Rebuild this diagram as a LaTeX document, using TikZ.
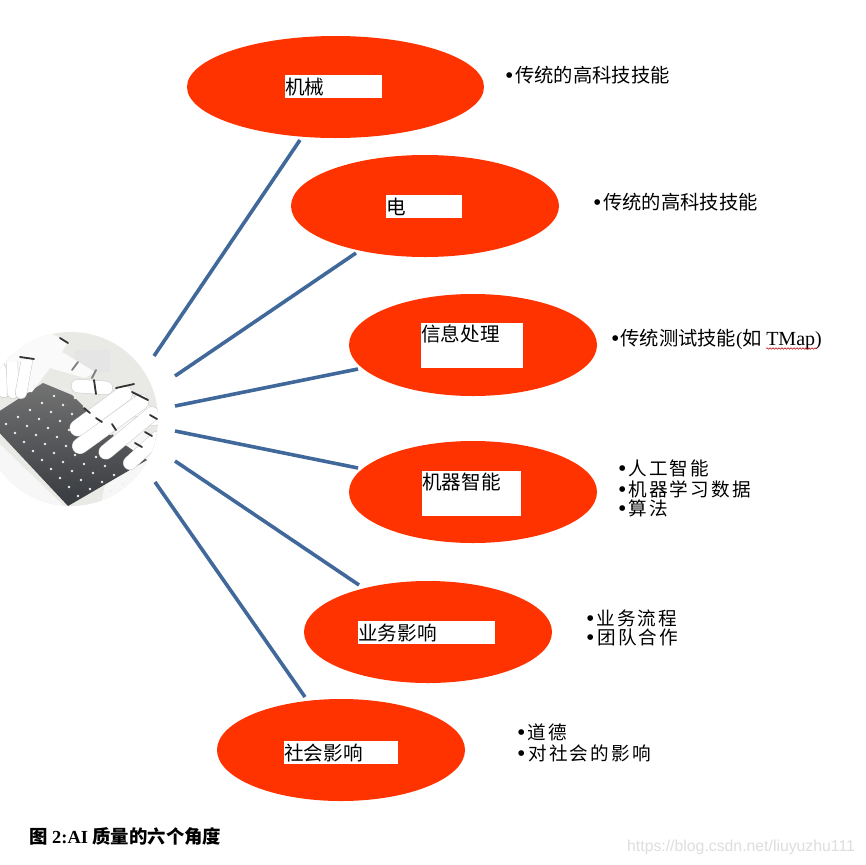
\documentclass[tikz,border=0pt]{standalone}
\usepackage{fontspec}
\setmainfont{Liberation Serif}
\newfontfamily\cjk{Noto Sans CJK SC}
\newfontfamily\cjks[LetterSpace=12]{Noto Sans CJK SC}
\newfontfamily\cjkb{Noto Sans CJK SC Bold}
\newfontfamily\wm{Liberation Sans}
\usetikzlibrary{shapes.geometric,decorations.pathmorphing}
\definecolor{ored}{HTML}{FF3300}
\definecolor{lblue}{HTML}{41689A}
\definecolor{kbd}{HTML}{3A3D42}
\definecolor{bgc}{HTML}{E9E9E6}
\tikzset{
  petal/.style={ellipse,fill=ored,draw=none,inner sep=0pt},
  lbl/.style={fill=white,inner sep=0pt,font=\fontsize{19.6}{19.6}\selectfont\cjk,align=left,anchor=north west},
  spoke/.style={draw=lblue,line width=3.6pt},
  txt/.style={anchor=west,inner sep=0pt,font=\fontsize{19.3}{19.3}\selectfont\cjk},
  txtb/.style={anchor=west,inner sep=0pt,font=\fontsize{18.6}{18.6}\selectfont\cjks},
  finger/.style={line cap=round,line width=#1,draw=white,
    preaction={draw=black!20,line width=#1+1pt,line cap=round}},
  joint/.style={line width=1.8pt,draw=black!80,line cap=round},
  keydot/.style={fill=white!88!gray},
}
\newcommand{\bul}[1]{\smash{\raisebox{-1pt}{\fontsize{24}{24}\fontspec{Liberation Serif}\char"2022}}\kern#1pt\relax}
\begin{document}
\begin{tikzpicture}[x=1pt,y=-1pt]
\useasboundingbox[fill=white] (0,0) rectangle (865,865);
% picture in a circle
\begin{scope}
\clip (71,419) circle (87);
\fill[bgc] (-20,330) rectangle (160,510);
\fill[black!10] (75,350) rectangle (110,372);
\fill[white!94!gray] (-20,425) -- (68,510) -- (-20,510) -- cycle;
\fill[white!94!gray] (120,405) -- (165,450) -- (165,510) -- (100,510) -- cycle;
\shade[top color=black!55,bottom color=kbd!95!black,shading angle=0] (43,383) -- (-5,414) -- (-5,428) -- (68,506) -- (147,460) -- (118,440) -- (72,395) -- cycle;
\foreach \a in {0,...,6}{\foreach \b in {0,...,7}{
  \fill[keydot] ({6+\b*12+\a*9},{424-\b*7+\a*9}) circle (1.3);}}
\foreach \a in {7,...,9}{\foreach \b in {0,...,3}{
  \fill[keydot] ({6+\b*12+\a*9},{424-\b*7+\a*9}) circle (1.3);}}
% back hand
\fill[white!96!gray] (-5,362) -- (20,350) -- (52,334) -- (68,342) -- (62,352) -- (95,372) -- (85,378) -- (50,368) -- (32,392) -- (-5,395) -- cycle;
\draw[finger=11pt] (0,368) -- (4,392);
\draw[finger=11pt] (12,362) -- (13,393);
\draw[finger=11pt] (27,360) -- (21,393);
\fill[white!96!gray] (-5,350) -- (52,334) -- (45,358) -- (-5,364) -- cycle;
\draw[joint] (20,357) -- (34,359);
\draw[joint] (60,338) -- (68,343);
\draw[joint,black!50] (72,370) -- (78,362);
\draw[joint,black!50] (92,378) -- (96,370);
% thumb
\draw[finger=13pt] (78,386) -- (106,388);
\draw[joint] (94,380) -- (96,394);
% front hand
\draw[finger=15pt] (130,403) -- (154,418);
\draw[finger=16pt] (78,428) -- (124,394);
\draw[finger=15pt] (80,446) -- (141,402);
\draw[finger=14pt] (106,452) -- (152,414);
\draw[finger=13pt] (130,463) -- (157,438);
\draw[joint] (116,388) -- (134,384);
\draw[joint] (132,392) -- (148,400);
\draw[joint] (84,408) -- (90,413);
\draw[joint] (96,418) -- (102,422);
\draw[joint] (112,424) -- (116,430);
\draw[joint] (135,443) -- (142,447);
\draw[joint] (145,432) -- (152,436);
\draw[joint] (150,415) -- (157,419);
\end{scope}
% free ends of the connectors
\coordinate (h1) at (154,356);
\coordinate (h2) at (175,376);
\coordinate (h3) at (175,406);
\coordinate (h4) at (175,431);
\coordinate (h5) at (175,461);
\coordinate (h6) at (155,482);
\coordinate (e1) at (300,140);
\coordinate (e2) at (356,253);
\coordinate (e3) at (358,369);
\coordinate (e4) at (358,468);
\coordinate (e5) at (359,585);
\coordinate (e6) at (305,697);
\draw[spoke] (h1) -- (e1);
\draw[spoke] (h2) -- (e2);
\draw[spoke] (h3) -- (e3);
\draw[spoke] (h4) -- (e4);
\draw[spoke] (h5) -- (e5);
\draw[spoke] (h6) -- (e6);
% ellipses
\node[petal,minimum width=297pt,minimum height=102pt] (a1) at (335.5,87) {};
\node[petal,minimum width=268pt,minimum height=102pt] (a2) at (425,206) {};
\node[petal,minimum width=248pt,minimum height=102pt] (a3) at (473,345) {};
\node[petal,minimum width=248pt,minimum height=102pt] (a4) at (473,492) {};
\node[petal,minimum width=248pt,minimum height=102pt] (a5) at (428,632) {};
\node[petal,minimum width=248pt,minimum height=102pt] (a6) at (341,750) {};
% white label boxes
\node[lbl,minimum width=97pt,minimum height=23pt,text width=97pt] (b1) at (285,75) {\raisebox{-2.5pt}{机械}};
\node[lbl,minimum width=76pt,minimum height=23pt,text width=76pt] (b2) at (386,195) {\raisebox{-2.5pt}{电}};
\node[lbl,minimum width=102pt,minimum height=45pt,text width=102pt,anchor=west] (b3) at (421,345.5) {\raisebox{24pt}{信息处理}};
\node[lbl,minimum width=99pt,minimum height=45pt,text width=99pt,anchor=west] (b4) at (422,493.5) {\raisebox{24pt}{机器智能}};
\node[lbl,minimum width=137pt,minimum height=23pt,text width=137pt] (b5) at (358,621) {\raisebox{-2.5pt}{业务影响}};
\node[lbl,minimum width=114pt,minimum height=23pt,text width=114pt] (b6) at (284,741) {\raisebox{-2.5pt}{社会影响}};
% side texts
\node[txt] (t1) at (505,75) {\bul{1.6}传统的高科技技能};
\node[txt] (t2) at (593,202) {\bul{1.6}传统的高科技技能};
\node[txt] (t3) at (611,339) {\bul{0.8}传统测试技能{\rmfamily(}如 {\rmfamily\fontsize{20}{20}\selectfont TMap)}};
\node[txtb] (t4) at (618,468) {\bul{1.6}人工智能};
\node[txtb] (t5) at (618,489) {\bul{1.6}机器学习数据};
\node[txtb] (t6) at (618,508.5) {\bul{1.6}算法};
\node[txtb] (t7) at (586,618) {\bul{1.6}业务流程};
\node[txtb] (t8) at (586,637.5) {\bul{2.6}团队合作};
\node[txtb] (t9) at (517,732) {\bul{1.6}道德};
\node[txtb] (t10) at (517,753) {\bul{2.6}对社会的影响};
\coordinate (s1) at (766,348.5);
\coordinate (s2) at (817,348.5);
\draw[red!75!black,line width=.5pt,decorate,decoration={snake,amplitude=.8pt,segment length=3pt}] (s1) -- (s2);
% caption
\node[anchor=west,inner sep=0pt,font=\fontsize{18.4}{18.4}\selectfont\bfseries] (cap) at (29,836) {{\cjkb 图} 2:AI {\cjkb 质量的六个角度}};
\node[anchor=west,inner sep=0pt,text=black!13,font=\fontsize{15.8}{16}\selectfont\wm] (wmk) at (627,847) {https://blog.csdn.net/liuyuzhu111};
\end{tikzpicture}
\end{document}
